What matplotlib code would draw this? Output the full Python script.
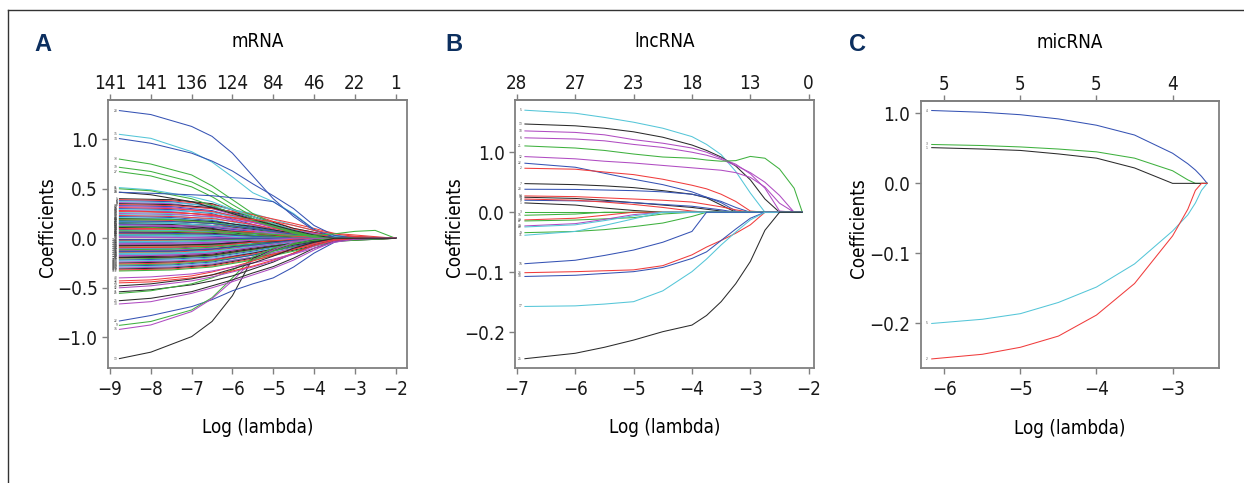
#!/usr/bin/env python3
"""Lasso coefficient paths for mRNA, lncRNA and micRNA."""

import matplotlib
matplotlib.use('Agg')
import matplotlib.pyplot as plt
from matplotlib.lines import Line2D


#### GLOBALS ####
dpi       = 100
figsize   = (1244/dpi, 483/dpi)
frameGray = '#808080'
navy      = '#0c2f5f'
tickSize  = 13.5
textSize  = 13.5

plt.rcParams['font.family'] = ['DejaVu Sans']
plt.rcParams['font.stretch'] = 'condensed'

# R matplot default colours: black, red, green, blue, cyan, magenta
palette = ['#2b2b2b', '#f03c3c', '#3fb13f', '#3653b4', '#55c6d8', '#b04cc2']


#### DATA ####
# --- A: mRNA ---
mrnaTicks     = [-9, -8, -7, -6, -5, -4, -3, -2]
mrnaTopLabels = ['141', '141', '136', '124', '84', '46', '22', '1']
mrnaYTicks    = [1.0, 0.5, 0.0, -0.5, -1.0]
mrnaYLabels   = ['1.0', '0.5', '0.0', '\u22120.5', '\u22121.0']

# the lines that stand out of the bundle
mrnaX = [-8.77, -8.0, -7.0, -6.5, -6.0, -5.5, -5.0, -4.5, -4.0, -3.5, -3.0, -2.5, -2.0]
mrnaLabels = [28, 35, 34, 33, 39, 27, 11, 15, 19, 46, 50, 57,
              13, 22, 9, 36, 25, 30, 31, 21, 42, 26, 32, 48, 37]
mrnaPaths = [
    [1.29, 1.25, 1.13, 1.03, 0.86, 0.63, 0.40, 0.22, 0.08, 0.02, 0, 0, 0],
    [1.05, 1.01, 0.875, 0.77, 0.62, 0.46, 0.37, 0.25, 0.09, 0.02, 0, 0, 0],
    [1.007, 0.96, 0.86, 0.78, 0.68, 0.55, 0.43, 0.30, 0.13, 0.03, 0, 0, 0],
    [0.80, 0.75, 0.64, 0.53, 0.39, 0.25, 0.15, 0.067, 0.024, 0, 0, 0, 0],
    [0.717, 0.675, 0.57, 0.47, 0.34, 0.22, 0.135, 0.067, 0.02, 0, 0, 0, 0],
    [0.673, 0.63, 0.52, 0.42, 0.30, 0.20, 0.118, 0.05, 0.01, 0, 0, 0, 0],
    [0.512, 0.49, 0.42, 0.37, 0.29, 0.22, 0.15, 0.084, 0.034, 0, 0, 0, 0],
    [0.50, 0.48, 0.40, 0.33, 0.25, 0.18, 0.118, 0.06, 0.02, 0, 0, 0, 0],
    [0.465, 0.44, 0.37, 0.31, 0.25, 0.19, 0.135, 0.08, 0.034, 0, 0, 0, 0],
    [0.465, 0.455, 0.44, 0.43, 0.41, 0.40, 0.37, 0.24, 0.09, 0.01, 0, 0, 0],
    [0.28, 0.27, 0.25, 0.23, 0.21, 0.19, 0.17, 0.13, 0.08, 0.045, 0.02, 0.005, 0],
    [0.12, 0.11, 0.09, 0.08, 0.06, 0.05, 0.04, 0.03, 0.03, 0.045, 0.07, 0.08, 0],
    [-1.215, -1.15, -0.993, -0.84, -0.58, -0.20, -0.12, -0.06, -0.017, 0, 0, 0, 0],
    [-0.835, -0.78, -0.69, -0.62, -0.53, -0.46, -0.40, -0.29, -0.15, -0.04, 0, 0, 0],
    [-0.879, -0.84, -0.724, -0.60, -0.40, -0.19, -0.10, -0.05, 0, 0, 0, 0, 0],
    [-0.92, -0.875, -0.74, -0.61, -0.43, -0.22, -0.118, -0.04, 0, 0, 0, 0, 0],
    [-0.63, -0.606, -0.539, -0.48, -0.42, -0.35, -0.286, -0.20, -0.10, -0.034, 0, 0, 0],
    [-0.663, -0.64, -0.556, -0.50, -0.438, -0.37, -0.303, -0.22, -0.118, -0.03, 0, 0, 0],
    [-0.54, -0.52, -0.47, -0.43, -0.38, -0.31, -0.24, -0.15, -0.07, -0.02, 0, 0, 0],
    [-0.556, -0.53, -0.46, -0.40, -0.32, -0.22, -0.13, -0.06, -0.02, 0, 0, 0, 0],
    [-0.50, -0.48, -0.43, -0.39, -0.34, -0.29, -0.23, -0.16, -0.08, -0.02, 0, 0, 0],
    [-0.45, -0.44, -0.40, -0.37, -0.33, -0.28, -0.22, -0.15, -0.07, -0.02, 0, 0, 0],
    [-0.43, -0.42, -0.38, -0.34, -0.29, -0.23, -0.17, -0.11, -0.05, -0.01, 0, 0, 0],
    [-0.40, -0.39, -0.36, -0.33, -0.29, -0.25, -0.21, -0.16, -0.10, -0.04, -0.01, 0, 0],
    [-0.48, -0.46, -0.41, -0.37, -0.31, -0.25, -0.18, -0.10, -0.04, 0, 0, 0, 0],
]

# the dense bundle around zero
mrnaDenseX = [-8.77, -7.5, -6.5, -5.5, -4.5, -3.5, -2.0]
mrnaDenseLabels = [1, 2, 4, 5, 6, 7, 8, 10, 12, 14, 16, 17, 18, 20, 23, 24, 29, 38,
                   40, 41, 43, 44, 45, 47, 49, 51, 52, 53, 54, 55, 56, 58, 59, 60,
                   61, 62, 63, 64, 65, 66, 67, 68, 69, 70, 71, 72, 73, 74, 75, 76,
                   77, 78, 79, 80, 81, 82, 83, 84, 85, 86, 87, 88, 89, 90, 91, 92,
                   93, 94, 95, 96, 97, 98, 99, 100, 101, 102, 103, 104, 105, 106,
                   107, 108, 109, 110, 111, 112, 113, 114, 115, 116, 117, 118, 119,
                   120, 121]
mrnaDensePaths = [
    [0.40, 0.39, 0.35, 0.22, 0.08, 0.01, 0],
    [0.39, 0.38, 0.34, 0.24, 0.10, 0.02, 0],
    [0.38, 0.37, 0.32, 0.20, 0.07, 0.01, 0],
    [0.37, 0.36, 0.33, 0.25, 0.13, 0.03, 0],
    [0.36, 0.35, 0.30, 0.18, 0.06, 0.00, 0],
    [0.35, 0.34, 0.31, 0.22, 0.10, 0.02, 0],
    [0.34, 0.33, 0.30, 0.24, 0.15, 0.05, 0],
    [0.33, 0.32, 0.28, 0.17, 0.05, 0.00, 0],
    [0.32, 0.31, 0.27, 0.16, 0.06, 0.01, 0],
    [0.31, 0.30, 0.27, 0.19, 0.09, 0.02, 0],
    [0.30, 0.29, 0.25, 0.14, 0.04, 0.00, 0],
    [0.29, 0.28, 0.26, 0.18, 0.08, 0.01, 0],
    [0.28, 0.27, 0.23, 0.13, 0.04, 0.00, 0],
    [0.27, 0.26, 0.24, 0.17, 0.07, 0.01, 0],
    [0.26, 0.25, 0.21, 0.12, 0.03, 0.00, 0],
    [0.25, 0.24, 0.22, 0.16, 0.08, 0.02, 0],
    [0.24, 0.23, 0.19, 0.10, 0.02, 0.00, 0],
    [0.23, 0.22, 0.20, 0.14, 0.06, 0.01, 0],
    [0.22, 0.21, 0.18, 0.11, 0.04, 0.00, 0],
    [0.21, 0.20, 0.17, 0.09, 0.02, 0.00, 0],
    [0.20, 0.19, 0.17, 0.12, 0.05, 0.01, 0],
    [0.19, 0.18, 0.15, 0.08, 0.02, 0.00, 0],
    [0.18, 0.17, 0.15, 0.10, 0.04, 0.00, 0],
    [0.17, 0.16, 0.13, 0.07, 0.01, 0.00, 0],
    [0.16, 0.15, 0.13, 0.09, 0.04, 0.01, 0],
    [0.15, 0.14, 0.12, 0.06, 0.01, 0.00, 0],
    [0.14, 0.13, 0.11, 0.07, 0.03, 0.00, 0],
    [0.13, 0.12, 0.10, 0.05, 0.01, 0.00, 0],
    [0.12, 0.12, 0.10, 0.06, 0.02, 0.00, 0],
    [0.11, 0.10, 0.08, 0.04, 0.01, 0.00, 0],
    [0.10, 0.10, 0.08, 0.05, 0.02, 0.00, 0],
    [0.09, 0.08, 0.07, 0.03, 0.01, 0.00, 0],
    [0.08, 0.08, 0.06, 0.04, 0.01, 0.00, 0],
    [0.07, 0.06, 0.05, 0.02, 0.00, 0.00, 0],
    [0.06, 0.06, 0.05, 0.03, 0.01, 0.00, 0],
    [0.05, 0.05, 0.04, 0.02, 0.00, 0.00, 0],
    [0.04, 0.04, 0.03, 0.01, 0.00, 0.00, 0],
    [0.03, 0.03, 0.02, 0.01, 0.00, 0.00, 0],
    [0.02, 0.02, 0.01, 0.00, 0.00, 0.00, 0],
    [0.01, 0.01, 0.00, 0.00, 0.00, 0.00, 0],
    [0.15, 0.14, 0.10, 0.02, -0.03, -0.01, 0],
    [0.05, 0.05, 0.06, 0.07, 0.05, 0.02, 0],
    [0.195, 0.19, 0.16, 0.10, 0.03, 0.00, 0],
    [0.175, 0.17, 0.15, 0.10, 0.04, 0.01, 0],
    [0.155, 0.15, 0.13, 0.08, 0.02, 0.00, 0],
    [0.135, 0.13, 0.12, 0.08, 0.03, 0.00, 0],
    [0.115, 0.11, 0.09, 0.05, 0.01, 0.00, 0],
    [0.095, 0.09, 0.08, 0.05, 0.02, 0.00, 0],
    [0.075, 0.07, 0.06, 0.03, 0.01, 0.00, 0],
    [0.055, 0.05, 0.04, 0.02, 0.00, 0.00, 0],
    [0.035, 0.03, 0.03, 0.01, 0.00, 0.00, 0],
    [0.015, 0.01, 0.01, 0.00, 0.00, 0.00, 0],
    [-0.01, -0.01, -0.01, 0.00, 0.00, 0.00, 0],
    [-0.02, -0.02, -0.01, -0.01, 0.00, 0.00, 0],
    [-0.03, -0.03, -0.02, -0.01, 0.00, 0.00, 0],
    [-0.04, -0.04, -0.03, -0.02, -0.01, 0.00, 0],
    [-0.05, -0.05, -0.04, -0.02, 0.00, 0.00, 0],
    [-0.06, -0.06, -0.05, -0.03, -0.01, 0.00, 0],
    [-0.07, -0.07, -0.06, -0.03, -0.01, 0.00, 0],
    [-0.08, -0.08, -0.07, -0.04, -0.02, 0.00, 0],
    [-0.09, -0.09, -0.07, -0.04, -0.01, 0.00, 0],
    [-0.10, -0.10, -0.08, -0.05, -0.02, 0.00, 0],
    [-0.11, -0.11, -0.09, -0.05, -0.02, 0.00, 0],
    [-0.12, -0.12, -0.10, -0.07, -0.03, -0.01, 0],
    [-0.13, -0.13, -0.11, -0.06, -0.02, 0.00, 0],
    [-0.14, -0.14, -0.12, -0.08, -0.03, 0.00, 0],
    [-0.15, -0.15, -0.13, -0.08, -0.03, 0.00, 0],
    [-0.16, -0.16, -0.14, -0.09, -0.04, -0.01, 0],
    [-0.17, -0.16, -0.14, -0.08, -0.03, 0.00, 0],
    [-0.18, -0.17, -0.15, -0.10, -0.05, -0.01, 0],
    [-0.19, -0.18, -0.16, -0.10, -0.04, 0.00, 0],
    [-0.20, -0.19, -0.17, -0.11, -0.05, -0.01, 0],
    [-0.21, -0.20, -0.18, -0.12, -0.05, 0.00, 0],
    [-0.22, -0.21, -0.19, -0.13, -0.06, -0.01, 0],
    [-0.23, -0.22, -0.20, -0.14, -0.06, -0.01, 0],
    [-0.24, -0.23, -0.21, -0.15, -0.07, -0.01, 0],
    [-0.25, -0.24, -0.22, -0.15, -0.07, -0.01, 0],
    [-0.26, -0.25, -0.22, -0.16, -0.08, -0.02, 0],
    [-0.27, -0.26, -0.23, -0.17, -0.09, -0.02, 0],
    [-0.28, -0.27, -0.24, -0.17, -0.08, -0.01, 0],
    [-0.29, -0.28, -0.25, -0.19, -0.10, -0.02, 0],
    [-0.30, -0.29, -0.26, -0.19, -0.10, -0.02, 0],
    [-0.31, -0.30, -0.27, -0.20, -0.12, -0.03, 0],
    [-0.32, -0.31, -0.28, -0.21, -0.11, -0.02, 0],
    [-0.33, -0.32, -0.29, -0.22, -0.13, -0.03, 0],
    [-0.015, -0.01, -0.01, 0.00, 0.00, 0.00, 0],
    [-0.035, -0.03, -0.03, -0.02, -0.01, 0.00, 0],
    [-0.055, -0.05, -0.04, -0.02, 0.00, 0.00, 0],
    [-0.075, -0.07, -0.06, -0.04, -0.02, 0.00, 0],
    [-0.095, -0.09, -0.08, -0.04, -0.01, 0.00, 0],
    [-0.115, -0.11, -0.09, -0.06, -0.03, 0.00, 0],
    [-0.135, -0.13, -0.11, -0.07, -0.02, 0.00, 0],
    [-0.155, -0.15, -0.13, -0.09, -0.04, -0.01, 0],
    [-0.175, -0.17, -0.15, -0.09, -0.03, 0.00, 0],
    [-0.195, -0.19, -0.17, -0.11, -0.05, -0.01, 0],
]

# --- B: lncRNA ---  (the upper tick is printed "1.0" in the original)
lncTicks     = [-7, -6, -5, -4, -3, -2]
lncTopLabels = ['28', '27', '23', '18', '13', '0']
lncYTicks    = [0.1, 0.0, -0.1, -0.2]
lncYLabels   = ['1.0', '0.0', '\u22120.1', '\u22120.2']
lncX = [-6.86, -6.0, -5.5, -5.0, -4.5, -4.0, -3.75, -3.5, -3.25, -3.0, -2.75, -2.5, -2.25, -2.11]
lncLabels = [5, 13, 18, 6, 21, 12, 22, 2, 7, 28, 14, 19, 4, 8,
             1, 3, 15, 20, 27, 24, 23, 9, 11, 16, 26, 10, 17, 25]
lncPaths = [
    [0.170, 0.165, 0.158, 0.150, 0.140, 0.126, 0.113, 0.096, 0.068, 0.032, 0, 0, 0, 0],
    [0.147, 0.144, 0.140, 0.134, 0.125, 0.112, 0.103, 0.092, 0.077, 0.054, 0.022, 0, 0, 0],
    [0.1355, 0.133, 0.129, 0.121, 0.115, 0.107, 0.100, 0.090, 0.080, 0.064, 0.040, 0.002, 0, 0],
    [0.124, 0.122, 0.119, 0.113, 0.108, 0.100, 0.095, 0.088, 0.078, 0.066, 0.050, 0.028, 0, 0],
    [0.1105, 0.107, 0.103, 0.097, 0.092, 0.090, 0.087, 0.085, 0.086, 0.093, 0.090, 0.072, 0.040, 0],
    [0.0927, 0.089, 0.085, 0.082, 0.078, 0.074, 0.072, 0.070, 0.066, 0.058, 0.042, 0.015, 0, 0],
    [0.0817, 0.075, 0.065, 0.055, 0.046, 0.034, 0.025, 0.016, 0.002, 0, 0, 0, 0, 0],
    [0.0733, 0.0717, 0.067, 0.0627, 0.055, 0.045, 0.039, 0.030, 0.018, 0.002, 0, 0, 0, 0],
    [0.0477, 0.046, 0.044, 0.041, 0.036, 0.030, 0.024, 0.012, 0, 0, 0, 0, 0, 0],
    [0.0383, 0.038, 0.037, 0.036, 0.034, 0.030, 0.025, 0.018, 0.008, 0, 0, 0, 0, 0],
    [0.0272, 0.026, 0.024, 0.022, 0.020, 0.017, 0.013, 0.009, 0.004, 0, 0, 0, 0, 0],
    [0.025, 0.023, 0.020, 0.016, 0.012, 0.008, 0.005, 0.002, 0, 0, 0, 0, 0, 0],
    [0.020, 0.019, 0.018, 0.016, 0.013, 0.010, 0.007, 0.004, 0, 0, 0, 0, 0, 0],
    [0.022, 0.020, 0.017, 0.013, 0.008, 0.002, 0, 0, 0, 0, 0, 0, 0, 0],
    [0.0155, 0.012, 0.007, 0.003, 0, 0, 0, 0, 0, 0, 0, 0, 0, 0],
    [0, 0, 0, 0, 0, 0, 0, 0, 0, 0, 0, 0, 0, 0],
    [-0.005, -0.003, 0, 0, 0, 0, 0, 0, 0, 0, 0, 0, 0, 0],
    [-0.0128, -0.010, -0.005, 0, 0, 0, 0, 0, 0, 0, 0, 0, 0, 0],
    [-0.0145, -0.013, -0.011, -0.009, -0.003, 0, 0, 0, 0, 0, 0, 0, 0, 0],
    [-0.0228, -0.019, -0.012, -0.004, 0, 0, 0, 0, 0, 0, 0, 0, 0, 0],
    [-0.0245, -0.021, -0.014, -0.006, 0, 0, 0, 0, 0, 0, 0, 0, 0, 0],
    [-0.034, -0.032, -0.029, -0.024, -0.018, -0.007, 0, 0, 0, 0, 0, 0, 0, 0],
    [-0.0383, -0.032, -0.022, -0.011, 0, 0, 0, 0, 0, 0, 0, 0, 0, 0],
    [-0.0857, -0.080, -0.072, -0.063, -0.050, -0.032, 0, 0, 0, 0, 0, 0, 0, 0],
    [-0.1007, -0.099, -0.0975, -0.096, -0.089, -0.071, -0.058, -0.047, -0.035, -0.021, 0, 0, 0, 0],
    [-0.107, -0.105, -0.102, -0.099, -0.092, -0.077, -0.066, -0.047, -0.028, -0.010, 0, 0, 0, 0],
    [-0.157, -0.156, -0.153, -0.149, -0.131, -0.099, -0.078, -0.0545, -0.033, -0.0128, 0, 0, 0, 0],
    [-0.244, -0.235, -0.225, -0.213, -0.199, -0.188, -0.172, -0.149, -0.119, -0.082, -0.030, 0, 0, 0],
]

# --- C: micRNA ---
micTicks     = [-6, -5, -4, -3]
micTopLabels = ['5', '5', '5', '4']
micYTicks    = [0.1, 0.0, -0.1, -0.2]
micYLabels   = ['1.0', '0.0', '\u22120.1', '\u22120.2']
micX = [-6.165, -5.5, -5.0, -4.5, -4.0, -3.5, -3.0, -2.8, -2.7, -2.62, -2.545]
micLabels = [4, 3, 1, 5, 2]
micPaths = [
    [0.104, 0.1015, 0.098, 0.092, 0.083, 0.069, 0.043, 0.028, 0.019, 0.010, 0],
    [0.0555, 0.054, 0.052, 0.049, 0.045, 0.036, 0.018, 0.005, 0, 0, 0],
    [0.051, 0.049, 0.047, 0.042, 0.036, 0.022, 0, 0, 0, 0, 0],
    [-0.200, -0.194, -0.186, -0.170, -0.148, -0.115, -0.068, -0.045, -0.028, -0.010, 0],
    [-0.2506, -0.244, -0.234, -0.218, -0.188, -0.143, -0.075, -0.037, -0.010, 0, 0],
]


def drawPaths(ax, xKnots, labels, paths):
    for label, path in zip(labels, paths):
        color = palette[(label - 1) % 6]
        ax.plot(xKnots, path, color=color, lw=0.75, solid_joinstyle='round')
        ax.text(xKnots[0] - 0.05, path[0], str(label), fontsize=2.3,
                ha='right', va='center', color='#444444')


def styleAxes(ax, xlim, ylim, ticks, topLabels, yTicks, yLabels, title, ylabelX):
    ax.set_xlim(*xlim)
    ax.set_ylim(*ylim)
    ax.set_xticks(ticks, labels=[str(t).replace('-', '\u2212') for t in ticks])
    ax.set_yticks(yTicks, labels=yLabels)
    for spine in ax.spines.values():
        spine.set_color(frameGray)
        spine.set_linewidth(1.3)
    ax.tick_params(axis='x', direction='out', length=4, width=1, color=frameGray,
                   pad=4.5, labelsize=tickSize, labelcolor='#1a1a1a')
    ax.tick_params(axis='y', direction='out', length=4, width=1, color=frameGray,
                   pad=3.5, labelsize=tickSize, labelcolor='#1a1a1a')

    top = ax.secondary_xaxis('top')
    top.set_xticks(ticks, labels=topLabels)
    top.tick_params(direction='out', length=4, width=1, color=frameGray,
                    pad=1, labelsize=tickSize, labelcolor='#1a1a1a')
    for spine in top.spines.values():
        spine.set_color(frameGray)
        spine.set_linewidth(1.3)

    ax.text(0.5, 1.198, title, transform=ax.transAxes, ha='center',
            va='baseline', fontsize=textSize)
    ax.text(0.5, -0.244, 'Log (lambda)', transform=ax.transAxes, ha='center',
            va='baseline', fontsize=textSize)
    ax.text(ylabelX, 0.524, 'Coefficients', transform=ax.transAxes, ha='center',
            va='baseline', rotation=90, rotation_mode='anchor', fontsize=textSize)


#### MAIN ####
fig = plt.figure(figsize=figsize, dpi=dpi)
fig.patch.set_facecolor('white')

axA = fig.add_axes([108/1244, 115/483, 299/1244, 268/483])
axB = fig.add_axes([515/1244, 115/483, 299/1244, 268/483])
axC = fig.add_axes([920.7/1244, 114.7/483, 298.3/1244, 267.6/483])

drawPaths(axA, mrnaDenseX, mrnaDenseLabels, mrnaDensePaths)
drawPaths(axA, mrnaX, mrnaLabels, mrnaPaths)
styleAxes(axA, (-9.05, -1.72), (-1.31, 1.397), mrnaTicks, mrnaTopLabels,
          mrnaYTicks, mrnaYLabels, 'mRNA', -0.184)

drawPaths(axB, lncX, lncLabels, lncPaths)
styleAxes(axB, (-7.03, -1.91), (-0.2595, 0.187), lncTicks, lncTopLabels,
          lncYTicks, lncYLabels, 'lncRNA', -0.184)

drawPaths(axC, micX, micLabels, micPaths)
styleAxes(axC, (-6.31, -2.39), (-0.264, 0.118), micTicks, micTopLabels,
          micYTicks, micYLabels, 'micRNA', -0.189)

# panel letters
for letter, x in [('A', 42.5), ('B', 453.5), ('C', 857)]:
    fig.text(x/1244, 1 - 51/483, letter, ha='center', va='baseline', fontsize=17,
             fontweight='bold', fontstretch='normal', color=navy,
             family=['Liberation Sans', 'DejaVu Sans'])

# outer frame (top and left edges only)
fig.add_artist(Line2D([8.3/1244, 1], [1 - 10/483, 1 - 10/483], transform=fig.transFigure,
                      color='#333333', lw=1))
fig.add_artist(Line2D([8.3/1244, 8.3/1244], [0, 1 - 10/483], transform=fig.transFigure,
                      color='#333333', lw=1))

fig.savefig('out.png', dpi=dpi)
